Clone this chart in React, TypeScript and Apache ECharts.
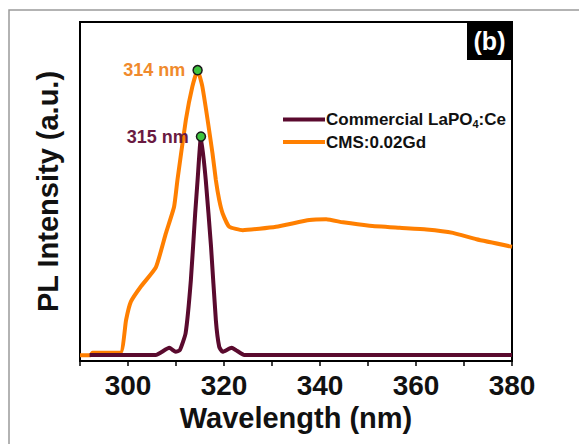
import React, { useEffect, useRef } from "react";
import * as echarts from "echarts";

// CMS:0.02Gd (orange)
const orangeWavelength = [290, 292.2, 292.6, 298.4, 299.6, 300.6, 302.65, 305.8, 307.9, 309.6, 310.3, 312.05, 313.4, 314.5, 315.5, 317.6, 318.3, 319.0, 319.7, 321.1, 323.9, 330.85, 337.8, 341.3, 344.8, 350.3, 356.6, 362.2, 367.7, 372.6, 380];
const orangeIntensity = [1.7, 1.7, 2.4, 2.4, 12.1, 17.5, 21.9, 27.6, 37.7, 45.5, 53.4, 71.1, 80.9, 85.8, 80.9, 61.3, 53.4, 47.5, 43.6, 39.6, 38.6, 39.6, 41.6, 41.8, 40.9, 39.9, 39.3, 38.8, 37.8, 35.9, 33.7];

// Commercial LaPO4:Ce (maroon)
const purpleWavelength = [292, 305.8, 308.6, 309.95, 310.8, 312.0, 313.1, 314.0, 314.5, 315.2, 316.2, 317.3, 318.3, 319.0, 319.7, 321.6, 322.5, 324.2, 380];
const purpleIntensity = [1.8, 1.8, 3.9, 2.7, 3.2, 8.2, 23.9, 43.6, 53.4, 66.2, 53.4, 33.7, 12.1, 4.2, 2.7, 3.9, 3.2, 1.8, 1.8];

const seriesNames = ["Commercial LaPO4:Ce", "CMS:0.02Gd"];
const peakLabels = ["315 nm", "314 nm"];
const xTickLabels = [300, 320, 340, 360, 380];

const FONT = "'Liberation Sans', Arial, Helvetica, sans-serif";
const ORANGE = "#ff7f00";
const MAROON = "#5a0a2e";

const zip = (xs: number[], ys: number[]) => xs.map((x, i) => [x, ys[i]]);

export default function App() {
  const ref = useRef<HTMLDivElement>(null);
  useEffect(() => {
    if (!ref.current) return;
    const chart = echarts.init(ref.current, undefined, { renderer: "svg" });
    const peakPoint = (label: string, color: string) => ({
      symbol: "circle",
      symbolSize: 9,
      itemStyle: { color: "#3ec43e", borderColor: "#1a1a1a", borderWidth: 1.5 },
      label: {
        show: true,
        position: "left",
        distance: 7,
        formatter: label,
        color,
        fontFamily: FONT,
        fontWeight: "bold",
        fontSize: 18,
      },
      data: [{ type: "max" }],
    });
    chart.setOption({
      animation: false,
      grid: {
        left: 80,
        right: 67,
        top: 22,
        bottom: 83,
        show: true,
        borderColor: "#000",
        borderWidth: 2,
      },
      legend: {
        orient: "vertical",
        left: 278,
        top: 106,
        icon: "rect",
        itemWidth: 42,
        itemHeight: 4,
        itemGap: 4,
        data: seriesNames,
        formatter: (name: string) =>
          name === "Commercial LaPO4:Ce"
            ? "{n|Commercial LaPO}{s|4}{n|:Ce}"
            : "{n|" + name + "}",
        textStyle: {
          padding: [0, 0, 0, -4],
          rich: {
            n: { fontFamily: FONT, fontWeight: "bold", fontSize: 17, color: "#111", lineHeight: 20 },
            s: { fontFamily: FONT, fontWeight: "bold", fontSize: 11, color: "#111", lineHeight: 20, verticalAlign: "bottom" },
          },
        },
      },
      xAxis: {
        type: "value",
        min: 290,
        max: 380,
        interval: 10,
        name: "Wavelength (nm)",
        nameLocation: "middle",
        nameGap: 42,
        nameTextStyle: { fontFamily: FONT, fontWeight: "bold", fontSize: 29, color: "#111" },
        axisLine: { show: true, lineStyle: { color: "#000", width: 2 } },
        axisTick: { show: true, length: 5, lineStyle: { color: "#000", width: 1.5 } },
        axisLabel: {
          margin: 10,
          fontFamily: FONT,
          fontWeight: "bold",
          fontSize: 28,
          color: "#111",
          formatter: (v: number) => (xTickLabels.includes(v) ? String(v) : ""),
        },
        splitLine: { show: false },
      },
      yAxis: {
        type: "value",
        min: 0,
        max: 100,
        name: "PL Intensity (a.u.)",
        nameLocation: "middle",
        nameGap: 18,
        nameTextStyle: { fontFamily: FONT, fontWeight: "bold", fontSize: 29, color: "#111" },
        axisLine: { show: true, lineStyle: { color: "#000", width: 2 } },
        axisTick: { show: false },
        axisLabel: { show: false },
        splitLine: { show: false },
      },
      series: [
        {
          name: seriesNames[0],
          type: "line",
          data: zip(purpleWavelength, purpleIntensity),
          showSymbol: false,
          smooth: 0.15,
          lineStyle: { color: MAROON, width: 4 },
          itemStyle: { color: MAROON },
          z: 3,
          markPoint: peakPoint(peakLabels[0], "#6a1a42"),
        },
        {
          name: seriesNames[1],
          type: "line",
          data: zip(orangeWavelength, orangeIntensity),
          showSymbol: false,
          smooth: 0.15,
          lineStyle: { color: ORANGE, width: 4 },
          itemStyle: { color: ORANGE },
          z: 2,
          markPoint: peakPoint(peakLabels[1], "#f08a2c"),
        },
      ],
      graphic: [
        {
          type: "rect",
          shape: { x: 9, y: 10, width: 700, height: 600 },
          style: { fill: "none", stroke: "#9a9a9a", lineWidth: 1.5 },
          silent: true,
        },
        {
          type: "rect",
          shape: { x: 467, y: 22, width: 45, height: 38 },
          style: { fill: "#000" },
          z: 10,
        },
        {
          type: "text",
          x: 489.5,
          y: 41,
          z: 11,
          style: {
            text: "(b)",
            fill: "#fff",
            font: "bold 25px " + FONT,
            textAlign: "center",
            textVerticalAlign: "middle",
          },
        },
      ],
    });
    return () => chart.dispose();
  }, []);
  return (
    <div
      ref={ref}
      style={{ position: "absolute", left: 0, top: 0, width: 579, height: 444, background: "#fff" }}
    />
  );
}
